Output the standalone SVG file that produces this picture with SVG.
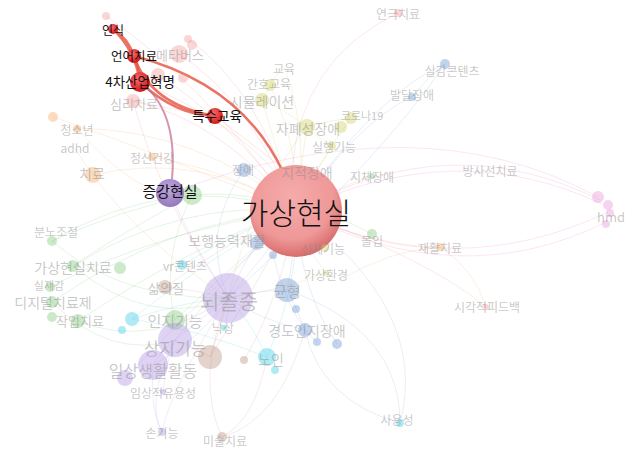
<svg xmlns="http://www.w3.org/2000/svg" width="634" height="450" viewBox="0 0 634 450">
<defs>
<radialGradient id="gRed" cx="0.4" cy="0.35" r="0.65"><stop offset="0" stop-color="#ff6a6a"/><stop offset="1" stop-color="#d01818"/></radialGradient>
<radialGradient id="gVR" cx="0.45" cy="0.35" r="0.65"><stop offset="0" stop-color="#f6abab"/><stop offset="0.7" stop-color="#ef9898"/><stop offset="1" stop-color="#d86c6c"/></radialGradient>
<radialGradient id="gAR" cx="0.45" cy="0.35" r="0.65"><stop offset="0" stop-color="#c0a8e0"/><stop offset="1" stop-color="#9478bc"/></radialGradient>
<style>
text{font-family:"Noto Sans CJK KR","Noto Sans",sans-serif;text-anchor:middle;dominant-baseline:central}
.f{fill:#8a8a8a;fill-opacity:.48}
.h{fill:#111}
.e{fill:none;stroke-width:1;stroke-opacity:.18}
.r{stroke:#f08080}.o{stroke:#f5a860}.g{stroke:#70c070}.y{stroke:#c8c850}.b{stroke:#78a0d8}.c{stroke:#50c8e0}.p{stroke:#b090e0}.m{stroke:#c09080}.k{stroke:#f070c0}
.hl{fill:none;stroke:#e85a4a;stroke-width:2.5;stroke-opacity:.85}
.nr{fill:#f08a8a;fill-opacity:.35}.no{fill:#f5a860;fill-opacity:.4}.ng{fill:#80c878;fill-opacity:.4}.ny{fill:#d0d060;fill-opacity:.4}
.nb{fill:#78a0d8;fill-opacity:.45}.nc{fill:#50d0e8;fill-opacity:.45}.np{fill:#b090e0;fill-opacity:.4}.nm{fill:#b89080;fill-opacity:.4}.nk{fill:#e890d8;fill-opacity:.4}
</style>
</defs>
<rect width="634" height="450" fill="#ffffff"/>
<g id="connectors">
<path class="e k" d="M296,211 Q450,125 600,200"/>
<path class="e k" d="M296,211 Q455,135 602,204"/>
<path class="e k" d="M170,193 Q420,100 598,197"/>
<path class="e k" d="M296,211 Q460,295 606,222"/>
<path class="e k" d="M296,211 Q455,285 608,212"/>
<path class="e r" d="M398,13 Q300,60 292,170"/>
<path class="e r" d="M296,211 Q430,260 486,307"/>
<path class="e o" d="M440,247 Q475,270 486,307"/>
<path class="e o" d="M296,211 Q380,250 440,247"/>
<path class="e o" d="M340,280 Q390,250 440,247"/>
<path class="e b" d="M296,211 Q380,90 445,64"/>
<path class="e b" d="M296,211 Q360,120 412,97"/>
<path class="e b" d="M412,97 Q430,75 445,64"/>
<path class="e b" d="M228,298 Q380,160 445,64"/>
<path class="e b" d="M296,211 Q430,310 400,423"/>
<path class="e b" d="M305,330 Q320,400 400,423"/>
<path class="e b" d="M287,290 Q400,330 400,423"/>
<path class="e m" d="M228,298 Q195,380 222,437"/>
<path class="e m" d="M267,357 Q255,420 222,437"/>
<path class="e m" d="M305,330 Q280,420 222,437"/>
<path class="e p" d="M175,340 Q145,400 162,432"/>
<path class="e p" d="M153,365 Q150,410 162,432"/>
<path class="e p" d="M228,298 Q170,390 162,432"/>
<path class="e g" d="M73,266 Q180,200 296,211"/>
<path class="e g" d="M52,241 Q170,170 296,211"/>
<path class="e g" d="M52,302 Q170,220 296,211"/>
<path class="e g" d="M78,321 Q200,240 296,211"/>
<path class="e g" d="M50,287 Q160,230 296,211"/>
<path class="e g" d="M52,241 Q120,300 228,298"/>
<path class="e g" d="M73,266 Q150,330 228,298"/>
<path class="e g" d="M78,321 Q150,350 228,298"/>
<path class="e g" d="M52,302 Q110,360 175,340"/>
<path class="e g" d="M192,195 Q250,190 296,211"/>
<path class="e g" d="M192,195 Q160,260 175,320"/>
<path class="e g" d="M175,320 Q240,260 296,211"/>
<path class="e g" d="M372,234 Q330,210 296,211"/>
<path class="e g" d="M192,195 Q120,210 52,241"/>
<path class="e g" d="M192,195 Q110,240 73,266"/>
<path class="e o" d="M93,175 Q200,150 296,211"/>
<path class="e o" d="M77,128 Q200,130 296,211"/>
<path class="e o" d="M152,157 Q230,170 296,211"/>
<path class="e o" d="M75,148 Q85,165 93,175"/>
<path class="e o" d="M53,117 Q150,150 296,211"/>
<path class="e o" d="M93,175 Q140,240 228,298"/>
<path class="e o" d="M77,128 Q130,190 170,193"/>
<path class="e r" d="M133,101 Q220,120 296,211"/>
<path class="e r" d="M179,54 Q250,100 296,211"/>
<path class="e r" d="M188,39 Q260,90 296,211"/>
<path class="e r" d="M133,101 Q175,110 215,116"/>
<path class="e r" d="M158,75 Q230,120 296,211"/>
<path class="e r" d="M133,101 Q160,200 228,298"/>
<path class="e r" d="M106,16 Q200,80 296,211"/>
<path class="e r" d="M215,116 Q260,150 285,170"/>
<path class="e r" d="M140,82 Q230,120 275,172"/>
<path class="e y" d="M307,127 Q300,170 296,211"/>
<path class="e y" d="M285,68 Q310,140 296,211"/>
<path class="e y" d="M270,85 Q300,150 296,211"/>
<path class="e y" d="M262,100 Q280,160 296,211"/>
<path class="e y" d="M351,118 Q320,160 296,211"/>
<path class="e y" d="M332,146 Q310,180 296,211"/>
<path class="e y" d="M325,248 Q310,230 296,211"/>
<path class="e y" d="M326,273 Q300,240 296,211"/>
<path class="e y" d="M307,127 Q285,110 262,100"/>
<path class="e y" d="M262,100 Q268,92 270,85"/>
<path class="e y" d="M285,68 Q275,75 270,85"/>
<path class="e y" d="M307,127 Q330,120 351,118"/>
<path class="e y" d="M307,127 Q320,140 332,146"/>
<path class="e y" d="M372,176 Q330,190 296,211"/>
<path class="e y" d="M326,273 Q280,290 228,298"/>
<path class="e y" d="M307,127 Q250,200 228,298"/>
<path class="e b" d="M244,170 Q270,185 296,211"/>
<path class="e b" d="M257,243 Q280,225 296,211"/>
<path class="e b" d="M287,290 Q295,250 296,211"/>
<path class="e b" d="M305,330 Q295,305 287,290"/>
<path class="e b" d="M287,290 Q260,290 228,298"/>
<path class="e b" d="M257,243 Q240,270 228,298"/>
<path class="e b" d="M305,330 Q260,320 228,298"/>
<path class="e b" d="M337,344 Q300,290 296,211"/>
<path class="e b" d="M244,170 Q200,230 228,298"/>
<path class="e b" d="M317,342 Q290,320 273,255"/>
<path class="e c" d="M182,265 Q240,230 296,211"/>
<path class="e c" d="M267,357 Q300,280 296,211"/>
<path class="e c" d="M224,328 Q230,310 228,298"/>
<path class="e c" d="M267,357 Q250,320 228,298"/>
<path class="e c" d="M132,319 Q190,300 228,298"/>
<path class="e c" d="M132,319 Q220,250 296,211"/>
<path class="e c" d="M267,357 Q200,330 132,319"/>
<path class="e p" d="M228,298 Q270,250 296,211"/>
<path class="e p" d="M175,340 Q200,320 228,298"/>
<path class="e p" d="M153,365 Q200,340 228,298"/>
<path class="e p" d="M153,365 Q162,350 175,340"/>
<path class="e p" d="M163,392 Q165,365 175,340"/>
<path class="e p" d="M228,298 Q190,240 170,193"/>
<path class="e p" d="M175,340 Q240,260 296,211"/>
<path class="e p" d="M125,378 Q200,300 296,211"/>
<path class="e m" d="M165,287 Q230,240 296,211"/>
<path class="e m" d="M165,287 Q195,290 228,298"/>
<path class="e m" d="M210,357 Q220,330 228,298"/>
<path class="e m" d="M210,357 Q260,280 296,211"/>
<path class="e m" d="M244,360 Q280,300 296,211"/>
<path class="e m" d="M210,357 Q190,345 175,340"/>
<path class="hl" d="M113,29 Q128,38 134,56"/>
<path class="hl" d="M113,29 Q135,50 140,82"/>
<path class="hl" d="M134,56 Q140,70 140,82"/>
<path class="hl" d="M134,56 Q150,105 215,116"/>
<path class="hl" d="M140,82 Q175,115 215,116" stroke-width="2"/>
<path class="hl" d="M134,56 Q242,84 283,172"/>
<path fill="none" stroke="#c06a8c" stroke-width="2" stroke-opacity=".7" d="M172,179 Q178,110 140,82"/>
</g>
<g id="n-vr"><circle cx="296" cy="211" r="46" fill="url(#gVR)"/><text class="h" x="296" y="211" font-size="30" font-weight="300">가상현실</text></g>
<g id="n-meta"><circle class="nr" cx="179" cy="54" r="9"/><circle class="nr" cx="188" cy="39" r="4"/><circle class="nr" cx="192" cy="45" r="5"/><circle class="nr" cx="158" cy="75" r="7"/><circle class="nr" cx="183" cy="78" r="5"/><circle class="nr" cx="106" cy="16" r="4"/><text class="f" x="180" y="54" font-size="13" fill-opacity=".35">메타버스</text></g>
<g id="n-psy"><circle class="nr" cx="133" cy="101" r="7"/><text class="f" x="134" y="103" font-size="13">심리치료</text></g>
<g id="n-drama"><circle class="nr" cx="398" cy="13" r="4"/><text class="f" x="398" y="13" font-size="12">연극치료</text></g>
<g id="n-vfb"><circle class="nr" cx="486" cy="307" r="3"/><text class="f" x="487" y="306" font-size="12">시각적피드백</text></g>
<g id="n-rad"><text class="f" x="490" y="170" font-size="12">방사선치료</text></g>
<g id="n-hmd"><circle class="nk" cx="598" cy="197" r="6"/><circle class="nk" cx="608" cy="205" r="5"/><circle class="nk" cx="610" cy="213" r="4"/><circle class="nk" cx="606" cy="224" r="4"/><text class="f" x="611" y="216" font-size="13">hmd</text></g>
<g id="n-teen"><circle class="no" cx="53" cy="117" r="5"/><circle class="no" cx="77" cy="129" r="4"/><text class="f" x="77" y="129" font-size="12">청소년</text></g>
<g id="n-adhd"><text class="f" x="75" y="147" font-size="12">adhd</text></g>
<g id="n-ther"><circle class="no" cx="93" cy="175" r="8"/><text class="f" x="92" y="173" font-size="14">치료</text></g>
<g id="n-mh"><circle class="no" cx="152" cy="157" r="4"/><text class="f" x="152" y="157" font-size="12" fill-opacity=".35">정신건강</text></g>
<g id="n-rehab"><circle class="no" cx="440" cy="247" r="4"/><text class="f" x="440" y="247" font-size="12">재활치료</text></g>
<g id="n-grn"><circle class="ng" cx="192" cy="195" r="10"/></g>
<g id="n-anger"><circle class="ng" cx="52" cy="241" r="5"/><text class="f" x="56" y="231" font-size="12">분노조절</text></g>
<g id="n-vrt"><circle class="ng" cx="73" cy="266" r="6"/><circle class="ng" cx="120" cy="268" r="6"/><text class="f" x="73" y="267" font-size="14">가상현실치료</text></g>
<g id="n-pres"><circle class="ng" cx="50" cy="287" r="5"/><text class="f" x="49" y="285" font-size="11" fill-opacity=".3">실재감</text></g>
<g id="n-dtx"><circle class="ng" cx="52" cy="302" r="6"/><text class="f" x="53" y="302" font-size="14">디지털치료제</text></g>
<g id="n-ot"><circle class="ng" cx="78" cy="321" r="7"/><circle class="ng" cx="52" cy="317" r="5"/><text class="f" x="80" y="320" font-size="13">작업치료</text></g>
<g id="n-cog"><circle class="ng" cx="175" cy="320" r="10"/><text class="f" x="175" y="320" font-size="15" fill-opacity=".3">인지기능</text></g>
<g id="n-imm"><circle class="ng" cx="372" cy="234" r="5"/><text class="f" x="372" y="240" font-size="12">몰입</text></g>
<g id="n-asd"><circle class="ny" cx="307" cy="127" r="8"/><circle class="ny" cx="341" cy="127" r="6"/><text class="f" x="308" y="128" font-size="14" fill-opacity=".65">자폐성장애</text></g>
<g id="n-edu"><text class="f" x="284" y="68" font-size="12">교육</text></g>
<g id="n-ned"><circle class="ny" cx="270" cy="85" r="6"/><text class="f" x="269" y="83" font-size="12" fill-opacity=".25">간호교육</text></g>
<g id="n-sim"><circle class="ny" cx="262" cy="100" r="7"/><text class="f" x="262" y="101" font-size="14" fill-opacity=".35">시뮬레이션</text></g>
<g id="n-covid"><circle class="ny" cx="351" cy="118" r="6"/><text class="f" x="362" y="115" font-size="11" fill-opacity=".25">코로나19</text></g>
<g id="n-ef"><circle class="ny" cx="332" cy="146" r="4"/><text class="f" x="334" y="146" font-size="12">실행기능</text></g>
<g id="n-phd"><circle class="ng" cx="372" cy="176" r="3"/><text class="f" x="372" y="176" font-size="12" fill-opacity=".3">지체장애</text></g>
<g id="n-pf"><circle class="ny" cx="325" cy="248" r="4"/><text class="f" x="323" y="248" font-size="12">신체기능</text></g>
<g id="n-ve"><circle class="ny" cx="326" cy="273" r="3"/><text class="f" x="326" y="274" font-size="12" fill-opacity=".3">가상환경</text></g>
<g id="n-id"><text class="f" x="307" y="172" font-size="14">지적장애</text></g>
<g id="n-dis"><circle class="nb" cx="244" cy="170" r="7"/><text class="f" x="243" y="169" font-size="12">장애</text></g>
<g id="n-gait"><circle class="nb" cx="257" cy="243" r="7"/><circle class="nb" cx="273" cy="255" r="4"/><text class="f" x="227" y="240" font-size="14">보행능력재활</text></g>
<g id="n-bal"><circle class="nb" cx="287" cy="290" r="12"/><circle class="nb" cx="296" cy="309" r="4"/><text class="f" x="287" y="290" font-size="15">균형</text></g>
<g id="n-mci"><circle class="nb" cx="305" cy="330" r="7"/><circle class="nb" cx="317" cy="342" r="4"/><circle class="nb" cx="337" cy="344" r="5"/><text class="f" x="307" y="330" font-size="14">경도인지장애</text></g>
<g id="n-rc"><circle class="nb" cx="445" cy="64" r="5" fill-opacity=".2"/><text class="f" x="452" y="70" font-size="12">실감콘텐츠</text></g>
<g id="n-dd"><circle class="nb" cx="412" cy="97" r="4" fill-opacity=".2"/><text class="f" x="412" y="94" font-size="12">발달장애</text></g>
<g id="n-use"><circle class="nc" cx="400" cy="423" r="4" fill-opacity=".15"/><text class="f" x="397" y="419" font-size="12">사용성</text></g>
<g id="n-vrc"><circle class="nc" cx="182" cy="265" r="5"/><text class="f" x="185" y="265" font-size="12">vr콘텐츠</text></g>
<g id="n-old"><circle class="nc" cx="267" cy="357" r="9"/><circle class="nc" cx="275" cy="370" r="4"/><text class="f" x="271" y="359" font-size="14">노인</text></g>
<g id="n-vid"><circle class="nc" cx="132" cy="319" r="7"/><circle class="nc" cx="122" cy="330" r="4"/></g>
<g id="n-fall"><circle class="nc" cx="224" cy="328" r="3"/><text class="f" x="223" y="327" font-size="12" fill-opacity=".3">낙상</text></g>
<g id="n-stroke"><circle class="np" cx="228" cy="298" r="25"/><text class="f" x="229" y="300" font-size="21">뇌졸중</text></g>
<g id="n-ue"><circle class="np" cx="175" cy="340" r="17"/><text class="f" x="175" y="347" font-size="17">상지기능</text></g>
<g id="n-adl"><circle class="np" cx="153" cy="365" r="15"/><circle class="np" cx="125" cy="378" r="8"/><text class="f" x="153" y="370" font-size="16">일상생활활동</text></g>
<g id="n-cu"><circle class="np" cx="163" cy="392" r="3"/><text class="f" x="163" y="392" font-size="12">임상적유용성</text></g>
<g id="n-hand"><circle class="np" cx="162" cy="432" r="4"/><text class="f" x="162" y="432" font-size="12">손기능</text></g>
<g id="n-qol"><circle class="nm" cx="165" cy="287" r="7"/><text class="f" x="166" y="287" font-size="13">삶의질</text></g>
<g id="n-brown"><circle class="nm" cx="210" cy="357" r="12"/><circle class="nm" cx="244" cy="360" r="4"/></g>
<g id="n-art"><circle class="nm" cx="222" cy="437" r="5"/><text class="f" x="225" y="440" font-size="12">미술치료</text></g>
<g id="n-ar"><circle cx="170" cy="193" r="14" fill="url(#gAR)"/><text class="h" x="170" y="190" font-size="15">증강현실</text></g>
<g id="n-se"><circle cx="215" cy="116" r="8" fill="url(#gRed)"/><text class="h" x="217" y="115" font-size="13.5">특수교육</text></g>
<g id="n-ir4"><circle cx="140" cy="82" r="10" fill="url(#gRed)"/><text class="h" x="140" y="81" font-size="13.5">4차산업혁명</text></g>
<g id="n-slt"><circle cx="134" cy="56" r="7" fill="url(#gRed)"/><text class="h" x="134" y="55" font-size="12.5">언어치료</text></g>
<g id="n-rec"><circle cx="113" cy="29" r="5" fill="url(#gRed)"/><text class="h" x="113" y="29" font-size="12">인식</text></g>
</svg>
